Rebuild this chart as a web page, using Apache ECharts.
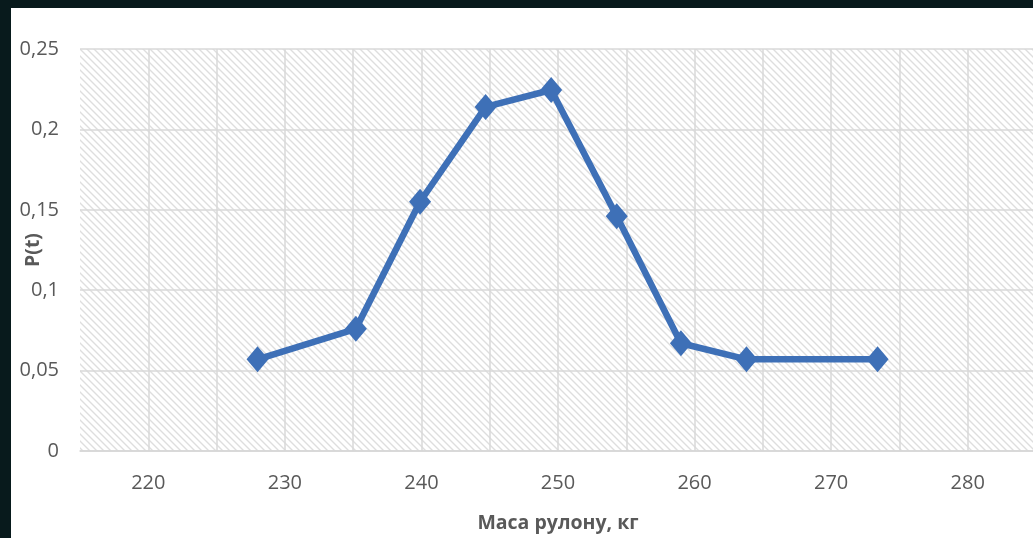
<!DOCTYPE html>
<html>
<head>
<meta charset="utf-8">
<script src="https://cdn.jsdelivr.net/npm/echarts@6/dist/echarts.min.js"></script>
<style>
  html, body { margin: 0; padding: 0; width: 1033px; height: 538px; overflow: hidden; background: #081a1c; }
  #chart { position: absolute; left: 11px; top: 8px; width: 1022px; height: 530px; background: #ffffff; }
</style>
</head>
<body>
<div id="chart"></div>
<script>
// Roll mass (kg) and probability P(t)
const mass = [228, 235.2, 239.9, 244.7, 249.5, 254.3, 259, 263.8, 273.4];
const prob = [0.057, 0.076, 0.155, 0.214, 0.2245, 0.146, 0.067, 0.057, 0.057];

const xMin = 215, xMax = 285, xStep = 5, xLabelStep = 10;
const yMin = 0, yMax = 0.25, yStep = 0.05;

const xTitle = 'Маса рулону, кг';
const yTitle = 'P(t)';

// Diagonal hatch tile for the plot area
function hatchTile() {
  const s = 7;
  const c = document.createElement('canvas');
  c.width = s; c.height = s;
  const ctx = c.getContext('2d');
  const img = ctx.createImageData(s, s);
  for (let y = 0; y < s; y++) {
    for (let x = 0; x < s; x++) {
      const d = ((x - y) % s + s) % s;
      let v = 255;
      if (d === 0) v = 222;
      else if (d === 1 || d === s - 1) v = 239;
      const i = (y * s + x) * 4;
      img.data[i] = v; img.data[i + 1] = v; img.data[i + 2] = v; img.data[i + 3] = 255;
    }
  }
  ctx.putImageData(img, 0, 0);
  return c;
}

const textColor = '#595959';
const fontFamily = '"Open Sans", "Liberation Sans", sans-serif';

const chart = echarts.init(document.getElementById('chart'), null, { renderer: 'canvas' });
chart.setOption({
  animation: false,
  backgroundColor: '#ffffff',
  grid: {
    left: 69, right: -3, top: 41, bottom: 87,
    containLabel: false,
    outerBoundsMode: 'none',
    show: true,
    borderWidth: 0,
    backgroundColor: { image: hatchTile(), repeat: 'repeat' }
  },
  xAxis: {
    type: 'value',
    min: xMin, max: xMax, interval: xStep,
    name: xTitle,
    nameLocation: 'middle',
    nameGap: 62,
    nameMoveOverlap: false,
    nameTextStyle: { color: textColor, fontFamily, fontSize: 19.5, fontWeight: 'bold' },
    axisLine: { show: true, lineStyle: { color: '#d6d6d6', width: 1.5 } },
    axisTick: { show: false },
    axisLabel: {
      color: textColor, fontFamily, fontSize: 20, margin: 22,
      showMinLabel: true, showMaxLabel: true,
      formatter: v => (Math.round(v) % xLabelStep === 0 ? String(v) : '')
    },
    splitLine: { show: true, showMinLine: false, lineStyle: { color: '#d9d9d9', width: 1.5 } }
  },
  yAxis: {
    type: 'value',
    min: yMin, max: yMax, interval: yStep,
    name: yTitle,
    nameLocation: 'middle',
    nameGap: 37,
    nameMoveOverlap: false,
    nameTextStyle: { color: textColor, fontFamily, fontSize: 19.5, fontWeight: 'bold' },
    axisLine: { show: false },
    axisTick: { show: false },
    axisLabel: {
      color: textColor, fontFamily, fontSize: 20, margin: 21,
      formatter: v => String(Math.round(v * 100) / 100).replace('.', ',')
    },
    splitLine: { show: true, lineStyle: { color: '#d9d9d9', width: 1.5 } }
  },
  series: [{
    type: 'line',
    data: mass.map((m, i) => [m, prob[i]]),
    symbol: 'diamond',
    symbolSize: [22, 26],
    showAllSymbol: true,
    lineStyle: { color: '#3e70b7', width: 6.5, join: 'round' },
    itemStyle: { color: '#3e70b7', borderWidth: 0 },
    z: 3
  }]
});
</script>
</body>
</html>
